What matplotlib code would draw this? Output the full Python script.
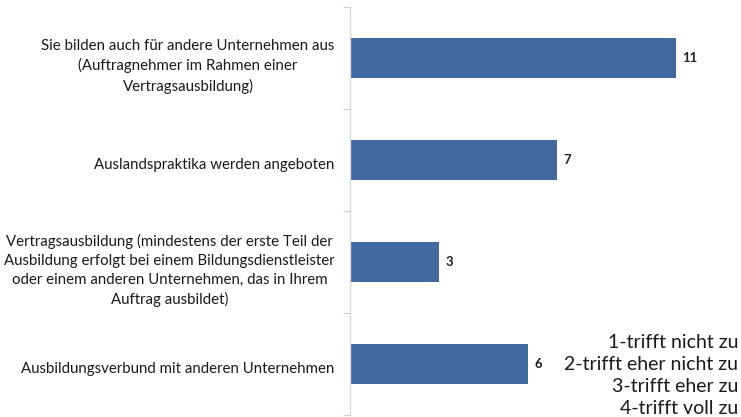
import matplotlib
matplotlib.use("Agg")
import matplotlib.pyplot as plt
from matplotlib.transforms import ScaledTranslation

plt.rcParams['font.family'] = ['Lato', 'DejaVu Sans']

# Antworten und Anzahl der Nennungen (von oben nach unten)
kategorien = [
    "Sie bilden auch für andere Unternehmen aus\n(Auftragnehmer im Rahmen einer\nVertragsausbildung)",
    "Auslandspraktika werden angeboten",
    "Vertragsausbildung (mindestens der erste Teil der\nAusbildung erfolgt bei einem Bildungsdienstleister\noder einem anderen Unternehmen, das in Ihrem\nAuftrag ausbildet)",
    "Ausbildungsverbund mit anderen Unternehmen",
]
anzahl = [11, 7, 3, 6]
skala = ["1-trifft nicht zu", "2-trifft eher nicht zu", "3-trifft eher zu", "4-trifft voll zu"]

bar_color = "#4268A0"

fig = plt.figure(figsize=(7.41, 4.17), dpi=100)
ax = fig.add_axes([350 / 741, 2 / 417, 391 / 741, 408 / 417])

pos = list(range(len(kategorien)))
ax.barh(pos, anzahl, height=0.39, color=bar_color)
ax.set_ylim(len(kategorien) - 0.5, -0.5)
ax.set_xlim(0, 13.2)

for y, v in zip(pos, anzahl):
    ax.text(v + 0.22, y, str(v), va="center", ha="left", fontsize=9.5,
            fontweight="bold", color="#222222")

ax.set_yticks(pos)
ax.set_yticklabels(kategorien, fontsize=10.8, ha="right", multialignment="center",
                   linespacing=1.45, color="#1a1a1a")
ax.tick_params(axis="y", which="major", length=0, pad=11)
# Beschriftungen etwas tiefer setzen
shift = ScaledTranslation(0, -0.04, fig.dpi_scale_trans)
for lbl in ax.get_yticklabels():
    lbl.set_transform(lbl.get_transform() + shift)
ax.set_yticks([p - 0.5 for p in pos] + [len(pos) - 0.5], minor=True)
ax.tick_params(axis="y", which="minor", length=5, color="#d0d0d0", width=0.8)

ax.xaxis.set_visible(False)
for side in ["top", "right", "bottom"]:
    ax.spines[side].set_visible(False)
ax.spines["left"].set_color("#d9d9d9")
ax.spines["left"].set_linewidth(1.0)

# Skala der Antwortmöglichkeiten unten rechts
for i, s in enumerate(skala):
    fig.text(738 / 741, 1 - (348 + 22 * i) / 417, s, ha="right", va="baseline",
             fontsize=14, color="#1a1a1a")

fig.savefig("out.png", dpi=100)
